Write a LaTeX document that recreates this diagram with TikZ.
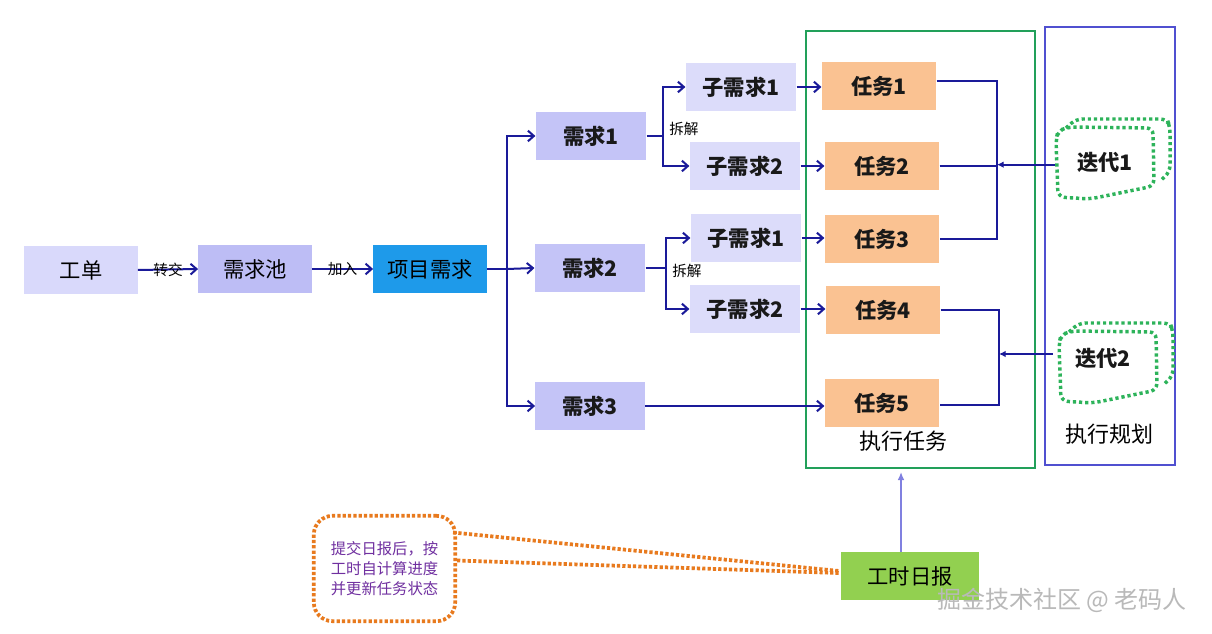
\documentclass[tikz,border=0pt]{standalone}
\usepackage{fontspec}
\setmainfont{Noto Sans CJK SC}
\usetikzlibrary{arrows.meta}
\definecolor{navy}{HTML}{1A1A99}
\definecolor{gdfill}{HTML}{D9D9FB}
\definecolor{poolfill}{HTML}{BDBDF5}
\definecolor{xqfill}{HTML}{C4C4F7}
\definecolor{zfill}{HTML}{DCDCFA}
\definecolor{projfill}{HTML}{1E9AEA}
\definecolor{taskfill}{HTML}{FAC292}
\definecolor{gsfill}{HTML}{92D050}
\definecolor{grnbox}{HTML}{22A05A}
\definecolor{bluebox}{HTML}{5050D0}
\definecolor{iterdot}{HTML}{2DB35A}
\definecolor{orgdot}{HTML}{E87A1E}
\definecolor{notetext}{HTML}{7030A0}
\definecolor{lilac}{HTML}{8080E0}
\begin{document}
\begin{tikzpicture}[x=0.75pt,y=-0.75pt,
  box/.style={inner sep=0pt, minimum height=36pt, minimum width=85pt,
    font=\fontsize{16}{19}\selectfont, text=black},
  bbox/.style={box, font=\fontsize{16}{19}\selectfont\bfseries, text=black!90},
  conn/.style={draw=navy, line width=1.5pt},
  arr/.style={conn, -{Straight Barb[length=4.5pt,width=8pt]}},
  farr/.style={conn, -{Latex[length=5pt,width=5pt]}},
  small/.style={font=\fontsize{11}{13}\selectfont, text=black, inner sep=0pt},
  bigl/.style={font=\fontsize{16.5}{19}\selectfont, text=black, inner sep=0pt},
  iterdots/.style={draw=iterdot, line width=2.6pt, dash pattern=on 2.4pt off 2.2pt, rounded corners=5pt},
  odot/.style={draw=orgdot, line width=2.8pt, dash pattern=on 2.4pt off 1.6pt},
]
\useasboundingbox (0,0) rectangle (1212,634);
\fill[white] (0,0) rectangle (1212,634);

% containers
\draw[grnbox, line width=1.5pt] (806,31) rectangle (1035,468);
\draw[bluebox, line width=1.5pt] (1045,27) rectangle (1175,465);
\node[bigl] (lblrw) at (903,441) {执行任务};
\node[bigl] (lblgh) at (1109,434) {执行规划};

% nodes
\node[box, fill=gdfill] (gd) at (81,270) {工单};
\node[box, fill=poolfill] (pool) at (255,269) {需求池};
\node[box, fill=projfill] (proj) at (430,269) {项目需求};
\node[bbox, fill=xqfill, minimum width=83pt] (xq1) at (591,136) {需求1};
\node[bbox, fill=xqfill, minimum width=83pt] (xq2) at (590,268) {需求2};
\node[bbox, fill=xqfill, minimum width=82pt] (xq3) at (590,406) {需求3};
\node[bbox, fill=zfill, minimum width=83pt] (z11) at (741,87) {子需求1};
\node[bbox, fill=zfill, minimum width=83pt] (z12) at (745,166) {子需求2};
\node[bbox, fill=zfill, minimum width=83pt] (z21) at (746,238) {子需求1};
\node[bbox, fill=zfill, minimum width=83pt] (z22) at (745,309) {子需求2};
\node[bbox, fill=taskfill, minimum width=86pt] (rw1) at (879,86) {任务1};
\node[bbox, fill=taskfill, minimum width=86pt] (rw2) at (882,166) {任务2};
\node[bbox, fill=taskfill, minimum width=86pt] (rw3) at (882,239) {任务3};
\node[bbox, fill=taskfill, minimum width=86pt] (rw4) at (883,310) {任务4};
\node[bbox, fill=taskfill, minimum width=86pt] (rw5) at (882,403) {任务5};
\node[box, fill=gsfill, minimum width=103pt] (gs) at (910,576) {工时日报};

% iteration shapes
\begin{scope}
  \draw[iterdots] (1056,140) -- (1058,131) -- (1068,127) -- (1153,128) -- (1154,186) -- (1090,199) -- (1058,197) -- cycle;
  \draw[iterdots] (1066,128) -- (1076,119) -- (1167,119) -- (1170,127) -- (1170,172) -- (1160,181);
\end{scope}
\begin{scope}[shift={(3,204)}]
  \draw[iterdots] (1056,140) -- (1058,131) -- (1068,127) -- (1153,128) -- (1154,186) -- (1090,199) -- (1058,197) -- cycle;
  \draw[iterdots] (1066,128) -- (1076,119) -- (1167,119) -- (1170,127) -- (1170,172) -- (1160,181);
\end{scope}
\node[bbox, minimum width=75pt, minimum height=20pt] (it1) at (1105,162) {迭代1};
\node[bbox, minimum width=75pt, minimum height=20pt] (it2) at (1103,358) {迭代2};

% first row connectors
\draw[arr] (gd.east) -- (pool.west) node[small, midway] (lzj) {转交};
\draw[arr] (pool.east) -- (proj.west) node[small, midway] (ljr) {加入};

% fork from project
\coordinate (f1) at (507,269);
\draw[conn] (proj.east) -- (f1);
\draw[arr] (f1) |- (xq1.west);
\draw[arr] (f1) |- (xq3.west);
\draw[arr] (f1) -- (xq2.west);

% split 1
\coordinate (f2) at (663,136);
\draw[conn] (xq1.east) -- (f2);
\draw[arr] (f2) |- (z11.west);
\draw[arr] (f2) |- (z12.west);
\node[small, anchor=west] (cj1) at (669,129) {拆解};

% split 2
\coordinate (f3) at (666,268);
\draw[conn] (xq2.east) -- (f3);
\draw[arr] (f3) |- (z21.west);
\draw[arr] (f3) |- (z22.west);
\node[small, anchor=west] (cj2) at (672,271) {拆解};

% sub -> task
\draw[arr] (z11.east) -- (z11.east -| rw1.west);
\draw[arr] (z12.east) -- (z12.east -| rw2.west);
\draw[arr] (z21.east) -- (z21.east -| rw3.west);
\draw[arr] (z22.east) -- (z22.east -| rw4.west);
\draw[arr] (xq3.east) -- (xq3.east -| rw5.west);

% brackets
\coordinate (b1) at (997,0);
\coordinate (b2) at (999,0);
\draw[conn] ([yshift=3.5pt]rw1.east) -- ([yshift=3.5pt]rw1.east -| b1) -- (rw3.east -| b1) -- (rw3.east);
\draw[conn] (rw2.east) -- (rw2.east -| b1);
\draw[conn] (rw4.east) -- (rw4.east -| b2) -- ([yshift=-1.5pt]rw5.east -| b2) -- ([yshift=-1.5pt]rw5.east);
\draw[farr] ([yshift=-2pt]it1.west) -- ([yshift=-2pt]it1.west -| b1);
\draw[farr] ([yshift=3pt]it2.west) -- ([yshift=3pt]it2.west -| b2);

% time report
\coordinate (gtop) at (901,472);
\draw[draw=lilac, line width=1.1pt, -{Latex[length=6pt,width=5pt]}] (gs.north -| gtop) -- (gtop);

% note
\node[draw=orgdot, line width=2.8pt, dash pattern=on 2.4pt off 1.6pt, rounded corners=14pt,
  minimum width=106pt, minimum height=79pt, inner sep=0pt, align=center,
  text=notetext, font=\fontsize{11.5}{15}\selectfont] (note) at (384.5,568.5)
  {提交日报后，按\\工时自计算进度\\并更新任务状态};
\draw[odot] ([shift={(-4,-36)}]note.east) -- ([shift={(-2,-5)}]gs.west);
\draw[odot] ([shift={(0,-8)}]note.east) -- ([shift={(-2,-3)}]gs.west);

% watermark
\node[font=\fontsize{18}{20}\selectfont, text=gray!55, inner sep=0pt] (wm) at (1062,600) {掘金技术社区 @ 老码人};
\end{tikzpicture}
\end{document}
